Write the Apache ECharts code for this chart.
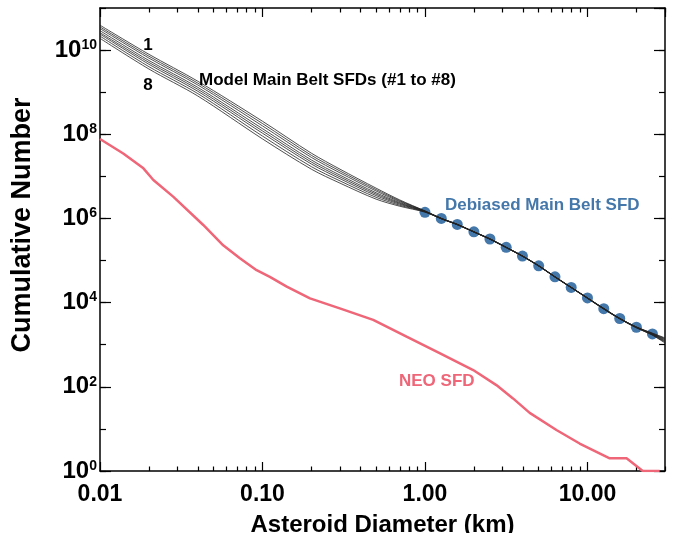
<!DOCTYPE html>
<html>
<head>
<meta charset="utf-8">
<script src="https://cdn.jsdelivr.net/npm/echarts@6/dist/echarts.min.js"></script>
<style>
  html, body { margin: 0; padding: 0; background: #fff; }
  #chart { width: 678px; height: 533px; }
</style>
</head>
<body>
<div id="chart"></div>
<script>
const FONT = '"Liberation Sans", Arial, Helvetica, sans-serif';

// model main belt SFDs (#1 to #8), diameters in km
const modelD = [0.01, 0.02, 0.04, 0.1, 0.2, 0.3, 0.5, 0.7, 1, 1.26, 1.58, 2, 2.51, 3.16, 3.98, 5.01, 6.31, 7.94, 10, 12.6, 15.8, 20, 25, 30];
const sfd1 = [3.9e10, 7.94e9, 1.82e9, 2.04e8, 3.55e7, 1.48e7, 5.25e6, 2.75e6, 1.51e6, 1.01e6, 7.3e5, 4.85e5, 3.3e5, 2.08e5, 1.29e5, 7.6e4, 4.15e4, 2.32e4, 1.3e4, 7.3e3, 4.25e3, 2.65e3, 1.9e3, 1.45e3];
const sfd2 = [3.55e10, 7.16e9, 1.64e9, 1.8e8, 3.16e7, 1.34e7, 4.85e6, 2.63e6, 1.5e6, 1.0e6, 7.25e5, 4.82e5, 3.28e5, 2.07e5, 1.285e5, 7.55e4, 4.13e4, 2.31e4, 1.295e4, 7.25e3, 4.22e3, 2.63e3, 1.86e3, 1.4e3];
const sfd3 = [3.25e10, 6.46e9, 1.48e9, 1.58e8, 2.82e7, 1.21e7, 4.49e6, 2.51e6, 1.49e6, 1.0e6, 7.2e5, 4.8e5, 3.25e5, 2.06e5, 1.28e5, 7.5e4, 4.1e4, 2.3e4, 1.29e4, 7.2e3, 4.2e3, 2.62e3, 1.83e3, 1.35e3];
const sfd4 = [2.9e10, 5.66e9, 1.3e9, 1.36e8, 2.45e7, 1.07e7, 4.08e6, 2.38e6, 1.47e6, 1.0e6, 7.2e5, 4.8e5, 3.25e5, 2.06e5, 1.28e5, 7.5e4, 4.1e4, 2.3e4, 1.29e4, 7.2e3, 4.2e3, 2.6e3, 1.8e3, 1.3e3];
const sfd5 = [2.6e10, 5.1e9, 1.17e9, 1.2e8, 2.19e7, 9.7e6, 3.78e6, 2.28e6, 1.46e6, 0.99e6, 7.15e5, 4.78e5, 3.23e5, 2.05e5, 1.27e5, 7.45e4, 4.08e4, 2.29e4, 1.28e4, 7.15e3, 4.17e3, 2.58e3, 1.78e3, 1.25e3];
const sfd6 = [2.4e10, 4.6e9, 1.05e9, 1.06e8, 1.96e7, 8.8e6, 3.49e6, 2.18e6, 1.45e6, 0.99e6, 7.15e5, 4.77e5, 3.22e5, 2.04e5, 1.27e5, 7.45e4, 4.07e4, 2.28e4, 1.28e4, 7.1e3, 4.15e3, 2.56e3, 1.75e3, 1.2e3];
const sfd7 = [2.15e10, 4.04e9, 9.25e8, 9.06e7, 1.7e7, 7.8e6, 3.18e6, 2.06e6, 1.43e6, 0.98e6, 7.1e5, 4.75e5, 3.2e5, 2.03e5, 1.26e5, 7.4e4, 4.05e4, 2.27e4, 1.27e4, 7.05e3, 4.12e3, 2.54e3, 1.72e3, 1.15e3];
const sfd8 = [1.9e10, 3.55e9, 8.1e8, 7.76e7, 1.48e7, 6.9e6, 2.88e6, 1.95e6, 1.41e6, 0.98e6, 7.1e5, 4.75e5, 3.2e5, 2.02e5, 1.26e5, 7.4e4, 4.04e4, 2.26e4, 1.26e4, 7.0e3, 4.1e3, 2.52e3, 1.7e3, 1.1e3];

// debiased main belt SFD (points)
const debD = [1, 1.26, 1.58, 2, 2.51, 3.16, 3.98, 5.01, 6.31, 7.94, 10, 12.6, 15.8, 20, 25.1];
const debN = [1.4e6, 1.0e6, 7.2e5, 4.8e5, 3.25e5, 2.06e5, 1.28e5, 7.5e4, 4.1e4, 2.3e4, 1.29e4, 7.2e3, 4.2e3, 2.6e3, 1.8e3];

// NEO SFD
const neoD = [0.01, 0.0139, 0.0185, 0.0213, 0.0282, 0.0432, 0.0573, 0.0726, 0.092, 0.111, 0.141, 0.196, 0.299, 0.48, 0.77, 1.23, 1.98, 2.75, 3.48, 4.41, 6.44, 8.95, 13.7, 17.4, 21.9, 27.8];
const neoN = [7.7e7, 3.5e7, 1.55e7, 8.2e6, 3.3e6, 7.0e5, 2.3e5, 1.13e5, 5.9e4, 4.1e4, 2.4e4, 1.26e4, 7.3e3, 3.9e3, 1.55e3, 630, 250, 110, 53, 24, 9.4, 4.5, 2, 2, 1, 1];

// tick positions
const xMinorTicks = [0.02, 0.03, 0.04, 0.05, 0.06, 0.07, 0.08, 0.09, 0.2, 0.3, 0.4, 0.5, 0.6, 0.7, 0.8, 0.9, 2, 3, 4, 5, 6, 7, 8, 9, 20, 30];

const chart = echarts.init(document.getElementById('chart'));

const axisLineStyle = { color: '#000', width: 1.5 };
const tickStyle = { color: '#000', width: 1.2 };
const boldText = { color: '#000', fontWeight: 'bold', fontFamily: FONT };

const models = [sfd1, sfd2, sfd3, sfd4, sfd5, sfd6, sfd7, sfd8];
const series = models.map(vals => ({
  type: 'line',
  xAxisIndex: 0,
  yAxisIndex: 0,
  data: modelD.map((d, i) => [d, vals[i]]),
  showSymbol: false,
  smooth: 0.3,
  silent: true,
  lineStyle: { color: '#222', width: 0.8 },
  z: 4
}));

series.push({
  type: 'scatter',
  xAxisIndex: 0,
  yAxisIndex: 0,
  data: debD.map((d, i) => [d, debN[i]]),
  symbolSize: 11,
  itemStyle: { color: '#4477AA', opacity: 1 },
  z: 3
});

series.push({
  type: 'line',
  xAxisIndex: 0,
  yAxisIndex: 0,
  data: neoD.map((d, i) => [d, neoN[i]]),
  showSymbol: false,
  lineStyle: { color: '#EE6677', width: 2.5 },
  z: 2
});

function txt(text, x, y, color, size, align, rotation) {
  return {
    type: 'text', x: x, y: y, z: 10, rotation: rotation || 0,
    style: {
      text: text, fill: color, font: 'bold ' + size + 'px ' + FONT,
      textAlign: align, align: align,
      textVerticalAlign: 'middle', verticalAlign: 'middle'
    }
  };
}

const option = {
  animation: false,
  backgroundColor: '#fff',
  grid: { left: 100, right: 13, top: 8, bottom: 62, containLabel: false, outerBoundsMode: 'none' },
  xAxis: [
    {
      type: 'log', logBase: 10, min: 0.01, max: 30, position: 'bottom',
      axisLine: { onZero: false, lineStyle: axisLineStyle },
      axisTick: { inside: true, length: 9, lineStyle: tickStyle },
      axisLabel: Object.assign({ formatter: v => v.toFixed(2), showMaxLabel: false, margin: 12, fontSize: 23 }, boldText),
      splitLine: { show: false },
      name: 'Asteroid Diameter (km)', nameLocation: 'middle', nameGap: 42,
      nameTextStyle: Object.assign({ fontSize: 24 }, boldText)
    },
    {
      type: 'log', logBase: 10, min: 0.01, max: 30, position: 'top',
      axisLine: { onZero: false, lineStyle: axisLineStyle },
      axisTick: { inside: true, length: 9, lineStyle: tickStyle },
      axisLabel: { show: false },
      splitLine: { show: false }
    },
    {
      type: 'value', min: -2, max: Math.log10(30), position: 'bottom',
      axisLine: { show: false, onZero: false },
      axisTick: { inside: true, length: 4.5, lineStyle: tickStyle, customValues: xMinorTicks.map(Math.log10) },
      axisLabel: { show: false },
      splitLine: { show: false }
    },
    {
      type: 'value', min: -2, max: Math.log10(30), position: 'top',
      axisLine: { show: false, onZero: false },
      axisTick: { inside: true, length: 4.5, lineStyle: tickStyle, customValues: xMinorTicks.map(Math.log10) },
      axisLabel: { show: false },
      splitLine: { show: false }
    }
  ],
  yAxis: [
    { type: 'log', logBase: 10, min: 1, max: 1e11, show: false },
    {
      type: 'value', min: 0, max: 11, interval: 2, position: 'left',
      axisLine: { onZero: false, lineStyle: axisLineStyle },
      axisTick: { inside: true, length: 11, lineStyle: tickStyle },
      axisLabel: {
        formatter: v => '{b|10}{s|' + v + '}',
        showMaxLabel: false, margin: 3,
        rich: {
          b: Object.assign({ fontSize: 24 }, boldText),
          s: Object.assign({ fontSize: 14, verticalAlign: 'top' }, boldText)
        }
      },
      splitLine: { show: false }
    },
    {
      type: 'value', min: 0, max: 11, interval: 1, position: 'left',
      axisLine: { show: false, onZero: false },
      axisTick: { inside: true, length: 6, lineStyle: tickStyle },
      axisLabel: { show: false },
      splitLine: { show: false }
    },
    {
      type: 'value', min: 0, max: 11, interval: 2, position: 'right',
      axisLine: { onZero: false, lineStyle: axisLineStyle },
      axisTick: { inside: true, length: 11, lineStyle: tickStyle },
      axisLabel: { show: false },
      splitLine: { show: false }
    },
    {
      type: 'value', min: 0, max: 11, interval: 1, position: 'right',
      axisLine: { show: false, onZero: false },
      axisTick: { inside: true, length: 6, lineStyle: tickStyle },
      axisLabel: { show: false },
      splitLine: { show: false }
    }
  ],
  graphic: [
    txt('Cumulative Number', 23, 225, '#000', 27, 'center', Math.PI / 2),
    txt('1', 148, 45, '#000', 17, 'center'),
    txt('8', 148, 85, '#000', 17, 'center'),
    txt('Model Main Belt SFDs (#1 to #8)', 199, 80, '#000', 17, 'left'),
    txt('Debiased Main Belt SFD', 445, 205, '#4477AA', 17, 'left'),
    txt('NEO SFD', 399, 381, '#EE6677', 17, 'left')
  ],
  series: series
};

chart.setOption(option);
</script>
</body>
</html>
